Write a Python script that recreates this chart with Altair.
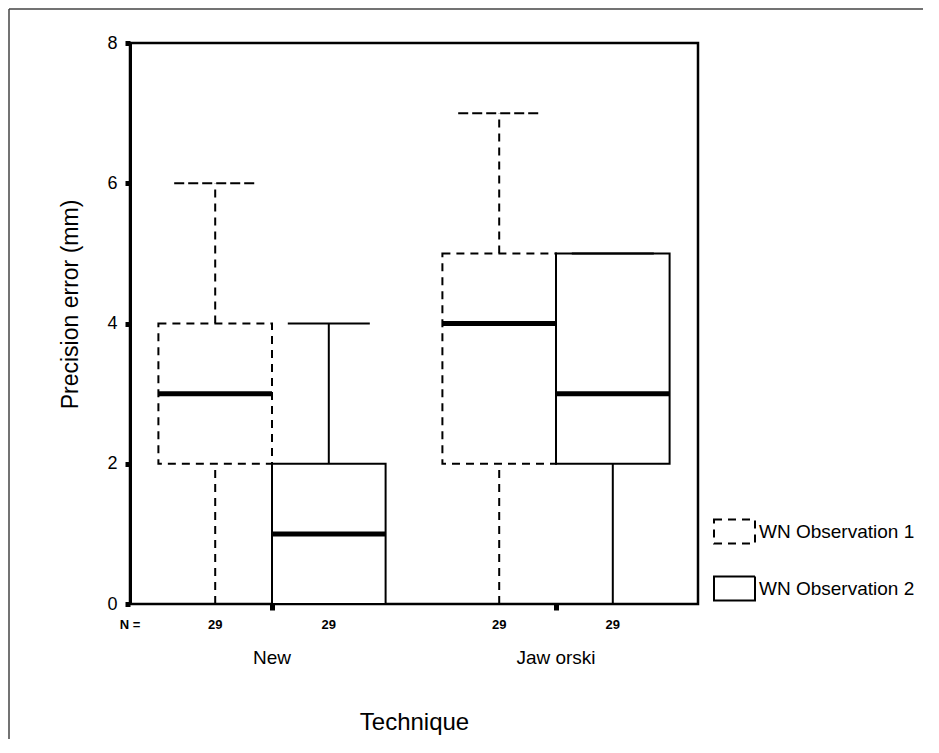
import altair as alt
import pandas as pd

# ---- data ----
techniques = ["New", "New", "Jaw orski", "Jaw orski"]
observations = ["WN Observation 1", "WN Observation 2", "WN Observation 1", "WN Observation 2"]
mins = [0, 0, 0, 0]
q1s = [2, 0, 2, 2]
medians = [3, 1, 4, 3]
q3s = [4, 2, 5, 5]
maxs = [6, 4, 7, 5]
ns = [29, 29, 29, 29]
tech_order = ["New", "Jaw orski"]
obs_order = ["WN Observation 1", "WN Observation 2"]
y_ticks = [0, 2, 4, 6, 8]

df = pd.DataFrame(dict(Technique=techniques, Observation=observations,
                       lo=mins, q1=q1s, med=medians, q3=q3s, hi=maxs, n=ns))
df["n_label"] = df["n"].astype(str)

FONT = "Liberation Sans"
W, H = 568, 561
LEG_PATH = "M-1,-0.585H1V0.585H-1Z"

x_axis = alt.Axis(title="Technique", titleFont=FONT, titleFontSize=24, titleFontWeight="normal",
                  titleColor="black", titleY=118, titleBaseline="middle",
                  labelFont=FONT, labelFontSize=19, labelColor="black", labelAngle=0,
                  labelBaseline="middle", labelPadding=47,
                  ticks=True, tickSize=6, tickWidth=5, tickColor="black",
                  domain=False, grid=False)
y_axis = alt.Axis(title="Precision error (mm)", titleFont=FONT, titleFontSize=23,
                  titleFontWeight="normal", titleColor="black",
                  titleX=-60, titleY=261, titleBaseline="middle", titleAngle=-90,
                  values=y_ticks, labelFont=FONT, labelFontSize=18, labelColor="black",
                  labelPadding=8, tickSize=5, tickWidth=5, tickColor="black",
                  domain=True, domainColor="black", domainWidth=3, grid=False)

def X():
    return alt.X("Technique:N", sort=tech_order,
                 scale=alt.Scale(domain=tech_order, paddingInner=0, paddingOuter=0),
                 axis=x_axis)

def XO(p_inner=0.0, p_outer=0.25):
    return alt.XOffset("Observation:N", sort=obs_order,
                       scale=alt.Scale(domain=obs_order, paddingInner=p_inner, paddingOuter=p_outer))

def Y(field):
    return alt.Y(f"{field}:Q", scale=alt.Scale(domain=[0, 8], nice=False, zero=True), axis=y_axis)

legend = alt.Legend(
    title=None, orient="none", legendX=583, legendY=467,
    symbolType=LEG_PATH, symbolSize=1681,
    symbolStrokeWidth=2, symbolStrokeColor="black", symbolFillColor="white",
    symbolOpacity=1,
    labelFont=FONT, labelFontSize=19, labelColor="black", labelOffset=3,
    rowPadding=19, labelLimit=300,
)

dash = alt.StrokeDash("Observation:N", sort=obs_order,
                      scale=alt.Scale(domain=obs_order, range=[[8, 6], [1, 0]]),
                      legend=legend)

base = alt.Chart(df)

# invisible layer whose only job is to give the legend open rectangular symbols
legend_layer = base.mark_point(shape=LEG_PATH, size=1681, filled=False, color="black",
                               strokeWidth=2, opacity=1).encode(
    x=X(), y=Y("hi"), strokeDash=dash).transform_filter("false")

boxes = base.mark_bar(fill="white", stroke="black", strokeWidth=2).encode(
    x=X(), xOffset=XO(), y=Y("q1"), y2="q3:Q", strokeDash=dash)
upper = base.mark_rule(color="black", strokeWidth=2).encode(
    x=X(), xOffset=XO(), y=Y("q3"), y2="hi:Q", strokeDash=dash)
lower = base.mark_rule(color="black", strokeWidth=2).encode(
    x=X(), xOffset=XO(), y=Y("lo"), y2="q1:Q", strokeDash=dash)
medline = base.mark_bar(fill=None, stroke="black", strokeWidth=5).encode(
    x=X(), xOffset=XO(), y=Y("med"), y2="med:Q")
ntext = base.mark_text(font=FONT, fontSize=13, fontWeight="bold", color="black",
                       baseline="middle").encode(
    x=X(), xOffset=XO(), y=alt.value(582), text="n_label:N")

main = alt.layer(legend_layer, upper, lower, boxes, medline, ntext)

# whisker caps: narrower offset bands sharing the same centres as the boxes
caps = base.mark_bar(fill=None, stroke="black", strokeWidth=2).encode(
    x=X(), xOffset=XO(0.278, 0.389), y=Y("hi"), y2="hi:Q", strokeDash=dash)

nlab = alt.Chart(pd.DataFrame({"t": ["N ="]})).mark_text(
    font=FONT, fontSize=13, fontWeight="bold", color="black", baseline="middle", align="center"
).encode(x=alt.value(0), y=alt.value(582), text="t:N")

border_left = alt.Chart(pd.DataFrame({"a": [0]})).mark_rule(color="#444", strokeWidth=1.5).encode(
    x=alt.value(-121), y=alt.value(-34), y2=alt.value(702))
border_top = alt.Chart(pd.DataFrame({"a": [0]})).mark_rule(color="#444", strokeWidth=1.5).encode(
    x=alt.value(-121), x2=alt.value(800), y=alt.value(-34))

chart = alt.layer(main, caps, nlab, border_left, border_top).resolve_scale(
    xOffset="independent"
).properties(
    width=W, height=H,
    background="white",
    autosize=alt.AutoSizeParams(type="none"),
    padding={"left": 122, "top": 35, "right": 225, "bottom": 135},
).configure_view(stroke="black", strokeWidth=2.5)

chart.save("out.html", embed_options={"renderer": "svg", "actions": False})
